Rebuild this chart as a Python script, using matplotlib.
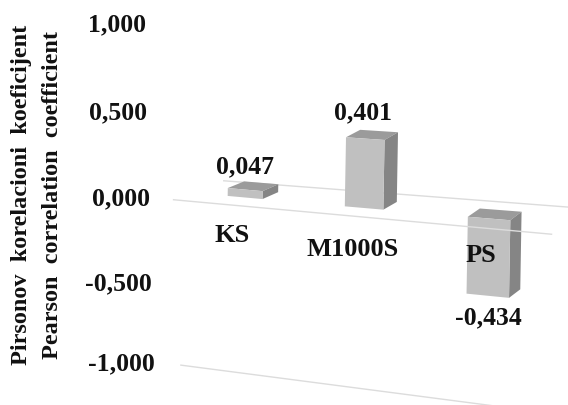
import matplotlib
matplotlib.use('Agg')
import matplotlib.pyplot as plt

categories = ['KS', 'M1000S', 'PS']
values = [0.047, 0.401, -0.434]
value_labels = ['0,047', '0,401', '-0,434']
tick_labels = ['1,000', '0,500', '0,000', '-0,500', '-1,000']
ylabel_lines = ['Pirsonov  korelacioni  koeficijent', 'Pearson  correlation  coefficient']

FRONT = '#c0c0c0'
TOP = '#9b9b9b'
SIDE = '#858585'
GRID = '#dcdcdc'
INK = '#111111'

plt.rcParams['font.family'] = ['Liberation Serif', 'DejaVu Serif']


def project(c, v, depth=0.0):
    # hand fitted perspective: category, value, depth -> pixel position
    x = 245 + 116 * c + 3 * c * c + 3 * v + depth * (16 - 2.2 * c)
    y = 197.5 + 10.5 * c - (168 + 5 * c) * v - depth * (6.8 + 0.8 * c)
    return x, y


def face(ax, pts, color, z):
    xs, ys = zip(*[project(*p) for p in pts])
    ax.fill(xs, ys, color=color, lw=0, zorder=z)


def grid_line(ax, v, depth, c0, c1, z=1):
    a = project(c0, v, depth)
    b = project(c1, v, depth)
    ax.plot([a[0], b[0]], [a[1], b[1]], color=GRID, lw=1.0, zorder=z)


fig = plt.figure(figsize=(5.68, 4.05), dpi=100)
ax = fig.add_axes([0, 0, 1, 1])
ax.set_xlim(0, 568)
ax.set_ylim(405, 0)
ax.axis('off')

grid_line(ax, 0, -1.1, -0.46, 2.57, z=5)
grid_line(ax, 0, 1.85, -0.46, 2.5)
grid_line(ax, -1, -0.9, -0.40, 2.6)

half = 0.15
for i, v in enumerate(values):
    w = half + 0.008 * i
    l, r = i - w, i + w
    top = max(v, 0)
    low = min(v, 0)
    face(ax, [(l, top, 0), (r, top, 0), (r, top, 1), (l, top, 1)], TOP, 3)
    face(ax, [(r, low, 0), (r, top, 0), (r, top, 1), (r, low, 1)], SIDE, 3)
    face(ax, [(l, low, 0), (r, low, 0), (r, top, 0), (l, top, 0)], FRONT, 4)

# value labels
label_pos = [(245, 167), (363, 113), (488, 318)]
for txt, (x, y) in zip(value_labels, label_pos):
    ax.text(x, y, txt, ha='center', va='center', fontsize=18.5, fontweight='bold', color=INK, zorder=6)

# category labels sit below the floor line
cat_pos = [(232, 236), (353, 249), (481, 256)]
for txt, (x, y) in zip(categories, cat_pos):
    ax.text(x, y, txt, ha='center', va='center', fontsize=19, fontweight='bold', color=INK, zorder=6)

# axis ticks
tick_x = [117, 118, 121, 118, 121]
tick_y = [25, 113, 199, 284, 364]
for txt, x, y in zip(tick_labels, tick_x, tick_y):
    ax.text(x, y, txt, ha='center', va='center', fontsize=18.5, fontweight='bold', color=INK)

ax.text(22, 195, ylabel_lines[0], rotation=90, ha='center', va='center', fontsize=17.5, fontweight='bold', color=INK)
ax.text(53, 195, ylabel_lines[1], rotation=90, ha='center', va='center', fontsize=17.5, fontweight='bold', color=INK)

fig.savefig('out.png', dpi=100)
